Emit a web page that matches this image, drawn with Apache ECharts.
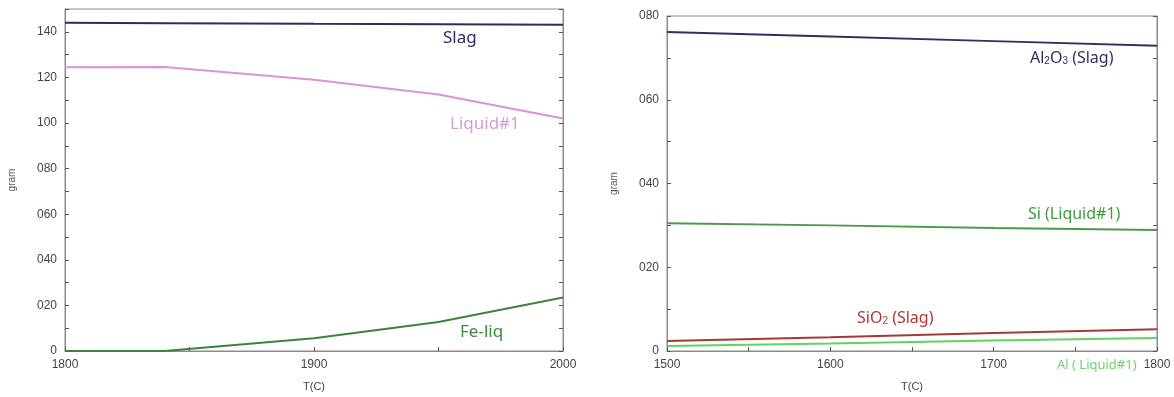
<!DOCTYPE html>
<html lang="en">

<head>
    <meta charset="UTF-8">
    <script src="https://cdn.jsdelivr.net/npm/echarts@6/dist/echarts.min.js"></script>
    <title>Equilibrium</title>
    <style>
        body { margin: 0; background: #fff; }
    </style>
</head>

<body>
    <div id="main" style="height: 397px;width: 1174px;"></div>

    <script>
        // left panel: total phase amounts
        var tempLeft = [1800, 1840, 1900, 1950, 2000];
        var slag = [144, 143.8, 143.5, 143.3, 143.1];
        var liquid1 = [124.5, 124.6, 119, 112.5, 102];
        var feLiq = [0, 0, 5.6, 12.7, 23.5];

        // right panel: species amounts
        var tempRight = [1500, 1600, 1700, 1800];
        var al2o3Slag = [76.2, 75.1, 74.0, 72.9];
        var siLiquid = [30.5, 30.0, 29.4, 28.9];
        var sio2Slag = [2.4, 3.3, 4.3, 5.2];
        var alLiquid = [1.2, 1.8, 2.5, 3.1];

        function pairs(xs, ys) {
            return xs.map(function (x, i) { return [x, ys[i]]; });
        }
        function pad(v) {
            return v === 0 ? '0' : String(v).padStart(3, '0');
        }

        var axisGray = '#8a8a8a';
        var labelFont = { color: '#444', fontSize: 12, fontFamily: 'Liberation Sans' };

        function xAx(grid, min, max) {
            return {
                type: 'value', gridIndex: grid, min: min, max: max, interval: 100,
                name: 'T(C)', nameLocation: 'middle', nameGap: 30,
                nameTextStyle: { color: '#444', fontSize: 11 },
                axisLine: { lineStyle: { color: axisGray } },
                axisTick: { inside: true, length: 4, lineStyle: { color: '#555' } },
                minorTick: { show: true, splitNumber: 2, length: 4, lineStyle: { color: '#555' } },
                splitLine: { show: false },
                axisLabel: Object.assign({ margin: 8, formatter: function (v) { return String(v); } }, labelFont)
            };
        }
        function yAx(grid, max, showLabels, showMax) {
            return {
                type: 'value', gridIndex: grid, min: 0, max: max, interval: 20,
                position: showLabels ? 'left' : 'right',
                name: showLabels ? 'gram' : '', nameLocation: 'middle', nameGap: 48,
                nameTextStyle: { color: '#555', fontSize: 10 },
                axisLine: { show: true, lineStyle: { color: axisGray } },
                axisTick: { show: true, inside: true, length: 4, lineStyle: { color: '#555' } },
                minorTick: { show: true, splitNumber: 2, length: 4, lineStyle: { color: '#555' } },
                splitLine: { show: false },
                axisLabel: Object.assign({ show: showLabels, formatter: pad, margin: 8, showMaxLabel: showMax }, labelFont)
            };
        }
        function line(name, xi, yi, data, color) {
            return {
                name: name, type: 'line', xAxisIndex: xi, yAxisIndex: yi,
                data: data, symbol: 'none', lineStyle: { color: color, width: 2 },
                itemStyle: { color: color }
            };
        }
        function note(text, x, y, color, size, rich) {
            return {
                type: 'text', left: x, top: y,
                style: {
                    text: text, fill: color, fontSize: size, fontFamily: 'Noto Sans',
                    rich: rich
                }
            };
        }
        var sub = { sub: { fontSize: 10, verticalAlign: 'bottom', padding: [6, 0, 0, 0] } };

        var myChart = echarts.init(document.getElementById('main'));
        var option = {
            backgroundColor: '#fff',
            animation: false,
            grid: [
                { left: 65, right: 611, top: 9, bottom: 44, show: true, borderColor: axisGray, borderWidth: 1 },
                { left: 667, right: 17, top: 16, bottom: 42, show: true, borderColor: axisGray, borderWidth: 1 }
            ],
            xAxis: [xAx(0, 1800, 2000), xAx(1, 1500, 1800)],
            yAxis: [yAx(0, 150, true, false), yAx(0, 150, false, false), yAx(1, 80, true, true), yAx(1, 80, false, true)],
            series: [
                line('Slag', 0, 0, pairs(tempLeft, slag), '#2b2d5c'),
                line('Liquid#1', 0, 0, pairs(tempLeft, liquid1), '#da92d8'),
                line('Fe-liq', 0, 0, pairs(tempLeft, feLiq), '#3c843c'),
                line('Al2O3 (Slag)', 1, 2, pairs(tempRight, al2o3Slag), '#2f3060'),
                line('Si (Liquid#1)', 1, 2, pairs(tempRight, siLiquid), '#4a9a4a'),
                line('SiO2 (Slag)', 1, 2, pairs(tempRight, sio2Slag), '#a23a3a'),
                line('Al (Liquid#1)', 1, 2, pairs(tempRight, alLiquid), '#62d262')
            ],
            graphic: [
                note('Slag', 443, 30, '#2b2d5c', 17),
                note('Liquid#1', 450, 116, '#d59bd6', 17),
                note('Fe-liq', 460, 324, '#3d8a3d', 17),
                note('Al{sub|2}O{sub|3} (Slag)', 1030, 50, '#2f3060', 16, sub),
                note('Si (Liquid#1)', 1028, 206, '#3f9a3f', 16),
                note('SiO{sub|2} (Slag)', 857, 310, '#b03838', 16, sub),
                note('Al ( Liquid#1)', 1057, 359, '#6ad46a', 13)
            ]
        };
        myChart.setOption(option);
    </script>
</body>

</html>
